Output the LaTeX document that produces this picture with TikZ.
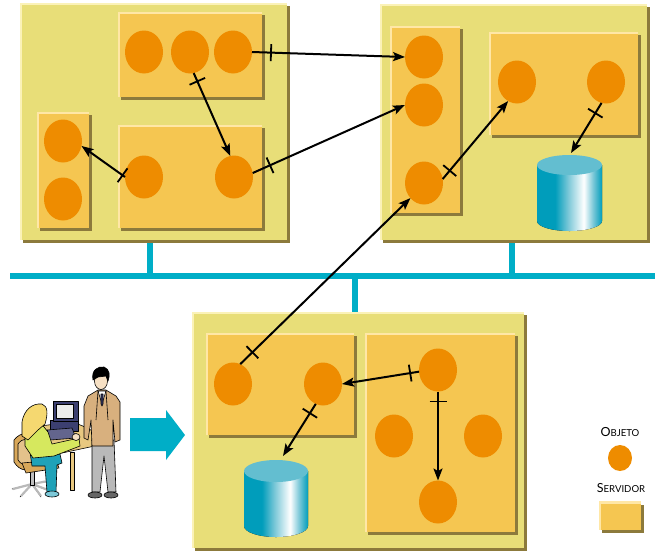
\documentclass[tikz,border=0pt]{standalone}
\usepackage{fontspec}
\setmainfont{Lato}
\usetikzlibrary{arrows.meta,shapes.geometric,decorations.markings}

\definecolor{machfill}{HTML}{E8DE78}
\definecolor{srvfill}{HTML}{F5C651}
\definecolor{objfill}{HTML}{EE8C00}
\definecolor{shadowc}{HTML}{8C7A3C}
\definecolor{lightedge}{HTML}{FBF2B8}
\definecolor{srvedge}{HTML}{FFE7A6}
\definecolor{netc}{HTML}{00AEC7}
\definecolor{cyd}{HTML}{009DBB}
\definecolor{cym}{HTML}{7CC8D8}
\definecolor{cytop}{HTML}{63BED0}
\definecolor{tanc}{HTML}{D9A85A}
\definecolor{jacket}{HTML}{D8B07E}
\definecolor{tablec}{HTML}{E8C880}
\definecolor{shirtc}{HTML}{D6E85E}
\definecolor{pantc}{HTML}{1FA2B8}
\definecolor{hairc}{HTML}{F5D870}
\definecolor{monc}{HTML}{3C3F70}
\definecolor{skin}{HTML}{F6E0C4}

% TikZ maps a path's bounding box onto the middle half (25bp..75bp) of a shading
\pgfdeclarehorizontalshading{cylshade}{100bp}{color(0bp)=(cyd); color(25bp)=(cyd); color(39bp)=(cyd); color(49bp)=(cym); color(61bp)=(white); color(68bp)=(cym); color(75bp)=(cyd); color(100bp)=(cyd)}

\tikzset{
  panel/.style={rectangle, inner sep=0pt, outer sep=0pt,
    preaction={fill=shadowc, transform canvas={shift={(3pt,-3pt)}}},
    path picture={\draw[line width=4pt,#1]
      (path picture bounding box.south west) -- (path picture bounding box.north west)
      -- (path picture bounding box.north east);}},
  machine/.style={panel=lightedge, fill=machfill},
  server/.style={panel=srvedge, fill=srvfill},
  obj/.style={ellipse, fill=objfill, inner sep=0pt, outer sep=0pt,
    minimum width=38pt, minimum height=43pt},
  msg/.style={line width=2pt, -{Stealth[length=12pt,width=9pt,inset=2.5pt]},
    postaction={decorate, decoration={markings,
      mark=at position #1 with {\draw[line width=1.8pt,-] (0,-8.5pt) -- (0,8.5pt);}}}},
  msg/.default=11pt,
  bus/.style={netc, line width=6pt},
  outl/.style={draw=black, line width=0.6pt, line join=round},
  legend/.style={inner sep=0pt}
}

\newcommand{\smallcapsword}[2]{{\fontsize{12.5}{14}\selectfont #1}{\fontsize{9.6}{14}\selectfont #2}}

\begin{document}
\begin{tikzpicture}[x=1pt, y=-1pt]
\useasboundingbox (0,0) rectangle (655,550);

% network bus and drops
\draw[bus] (10,276) -- (655,276);
\draw[bus] (150,238) -- (150,276);
\draw[bus] (512,238) -- (512,276);
\draw[bus] (355,276) -- (355,314);

% machines
\node[machine, minimum width=267pt, minimum height=237pt] (m1) at (153.5,121.5) {};
\node[machine, minimum width=267pt, minimum height=236pt] (m2) at (513.5,122) {};
\node[machine, minimum width=332pt, minimum height=236pt] (m3) at (358,430) {};

% servers
\node[server, minimum width=144pt, minimum height=85pt]  (sA) at (190,54.5) {};
\node[server, minimum width=52pt,  minimum height=116pt] (sB) at (63,170) {};
\node[server, minimum width=144pt, minimum height=103pt] (sC) at (190,176.5) {};
\node[server, minimum width=70pt,  minimum height=187pt] (sD) at (425,119.5) {};
\node[server, minimum width=149pt, minimum height=103pt] (sE) at (563.5,83.5) {};
\node[server, minimum width=148pt, minimum height=102pt] (sF) at (280,384) {};
\node[server, minimum width=150pt, minimum height=199pt] (sG) at (440,432.5) {};

% objects
\node[obj] (a1) at (144,52) {};
\node[obj] (a2) at (190,52) {};
\node[obj] (a3) at (233,52) {};
\node[obj] (b1) at (63,141) {};
\node[obj] (b2) at (63,199) {};
\node[obj] (c1) at (144,177) {};
\node[obj] (c2) at (234,177) {};
\node[obj] (d1) at (424,57) {};
\node[obj] (d2) at (424,105) {};
\node[obj] (d3) at (424,183) {};
\node[obj] (e1) at (517,82) {};
\node[obj] (e2) at (606,82) {};
\node[obj] (f1) at (233,384) {};
\node[obj] (f2) at (323,384) {};
\node[obj] (g1) at (438,370) {};
\node[obj] (g2) at (394,436) {};
\node[obj] (g3) at (483,436) {};
\node[obj] (g4) at (438,502) {};

% databases
\fill[shading=cylshade] (537,165) -- (537,221)
  arc[start angle=180, end angle=0, x radius=32.5, y radius=10] -- (602,165) -- cycle;
\fill[cytop] (569.5,165) ellipse[x radius=32.5, y radius=10];
\coordinate (db1) at (571,153);
\fill[shading=cylshade] (244,471) -- (244,526)
  arc[start angle=180, end angle=0, x radius=32, y radius=11] -- (308,471) -- cycle;
\fill[cytop] (276,471) ellipse[x radius=32, y radius=11];
\coordinate (db2) at (283,456);

% messages
\draw[msg=19pt] (a3.east) -- (d1.west);
\draw[msg=9pt]  (a2.280) -- (c2.100);
\draw[msg=3pt]  (c1.west) -- (b1.345);
\draw[msg=19pt] (c2.12) -- (d2.west);
\draw[msg=11pt] (d3.12) -- (e1.245);
\draw[msg=12pt] (e2.258) -- (db1);
\draw[msg=17pt] (f1.70) -- (d3.228);
\draw[msg=9pt]  (g1.185) -- (f2.east);
\draw[msg=10pt] (g1.south) -- (g4.north);
\draw[msg=11pt] (f2.250) -- (db2);

% hand-over arrow
\fill[netc] (130,418) -- (166,418) -- (166,410) -- (185,435) -- (166,460)
  -- (166,451) -- (130,451) -- cycle;

% users: chair
\draw[outl, fill=gray!45] (32,484) -- (12,489) (32,484) -- (20,497) (32,484) -- (41,497)
  (32,484) -- (52,492) (32,484) -- (49,481);
\draw[line width=2.2pt, gray!55] (32,484) -- (13,489) (32,484) -- (21,496) (32,484) -- (41,496)
  (32,484) -- (51,491) (32,484) -- (48,481);
\draw[outl, fill=gray!50] (30,470) rectangle (34,485);
\draw[outl, fill=tanc] (14,440) .. controls (20,432) and (32,430) .. (38,440)
  -- (37,466) .. controls (30,472) and (20,472) .. (14,462) -- cycle;
\draw[outl, fill=tanc!70] (18,444) .. controls (22,438) and (30,437) .. (34,443)
  -- (33,462) .. controls (28,466) and (22,466) .. (18,460) -- cycle;
\draw[outl, fill=tanc] (22,463) -- (56,460) -- (59,468) -- (26,473) -- cycle;
% users: desk
\draw[outl, fill=tablec] (40,426) -- (72,422) .. controls (90,428) and (100,434) .. (104,444)
  -- (62,453) .. controls (52,452) and (44,448) .. (40,440) -- cycle;
\draw[outl, fill=tablec] (70,452) rectangle (74,490);
% users: computer
\draw[outl, fill=monc] (50,420) rectangle (78,431);
\draw[outl, fill=monc] (53,401) rectangle (78,421);
\draw[outl, fill=gray!15] (56,404) rectangle (73,418);
\draw[outl, fill=monc!80] (47,430) -- (72,428) -- (76,438) -- (50,440) -- cycle;
% users: seated woman
\draw[outl, fill=pantc] (30,452) -- (60,454) -- (62,463) -- (57,465) -- (56,492)
  -- (47,492) -- (45,466) -- (32,466) -- cycle;
\draw[outl, fill=cym] (52,494) ellipse[x radius=7, y radius=3];
\draw[outl, fill=shirtc] (25,426) -- (40,422) -- (48,432) -- (52,444) -- (70,440)
  -- (79,438) -- (80,446) -- (54,456) -- (33,458) -- (25,446) -- cycle;
\draw[outl, fill=skin] (76,437) ellipse[x radius=4, y radius=3.5];
\draw[outl, fill=hairc] (22,422) .. controls (24,410) and (32,403) .. (42,404)
  .. controls (48,406) and (48,414) .. (45,424) -- (38,430) -- (28,440) -- (22,436) -- cycle;
% users: standing man
\draw[outl, fill=gray!55] (92,440) -- (114,440) -- (116,492) -- (108,492) -- (104,456)
  -- (100,492) -- (92,492) -- cycle;
\draw[outl, fill=gray!80!black] (95,495) ellipse[x radius=7, y radius=3];
\draw[outl, fill=gray!80!black] (111,495) ellipse[x radius=7, y radius=3];
\draw[outl, fill=jacket] (88,396) -- (98,390) -- (106,390) -- (116,396) -- (120,402)
  -- (120,440) -- (115,442) -- (113,420) -- (113,446) -- (92,446) -- (91,420)
  -- (88,440) -- (84,438) -- (84,406) -- cycle;
\draw[outl, fill=white] (98,391) -- (106,391) -- (102,404) -- cycle;
\draw[outl, fill=monc] (101,394) -- (103,394) -- (103,404) -- (102,406) -- (101,404) -- cycle;
\draw[outl] (98,391) -- (96,420) (106,391) -- (108,420);
\draw[outl, fill=skin] (101,381) ellipse[x radius=6.5, y radius=8.5];
\draw[outl, fill=black] (93,380) .. controls (91,370) and (98,366) .. (104,367)
  .. controls (110,369) and (110,376) .. (108,381) -- (106,376) -- (98,377) -- cycle;

% legend
\node[legend] (lobj) at (620,432) {\smallcapsword{O}{BJETO}};
\node[obj, minimum width=24pt, minimum height=26pt] (lobjmark) at (620,458) {};
\node[legend] (lsrv) at (621,488) {\smallcapsword{S}{ERVIDOR}};
\node[server, minimum width=42pt, minimum height=28pt] (lsrvmark) at (620,515.5) {};
\end{tikzpicture}
\end{document}
